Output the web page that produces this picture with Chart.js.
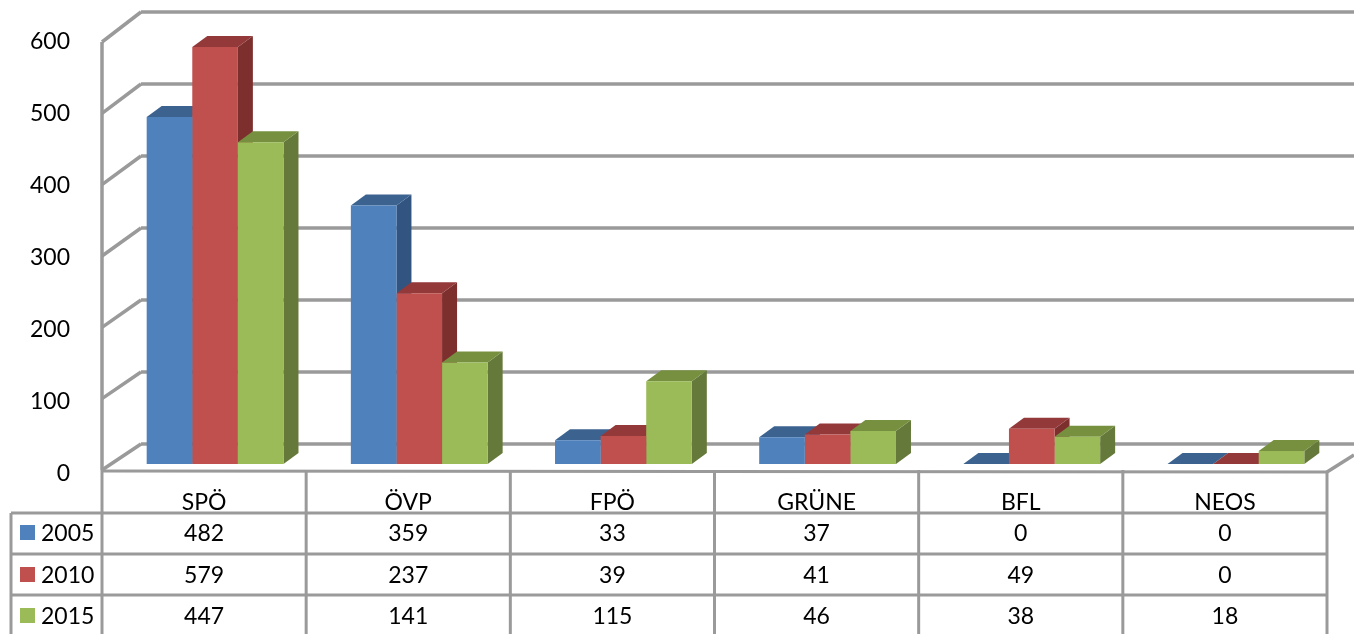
<!DOCTYPE html>
<html>
<head>
<meta charset="utf-8">
<title>Chart</title>
<script src="https://cdn.jsdelivr.net/npm/chart.js@4"></script>
<style>
  body { margin: 0; background: #fff; }
  canvas { display: block; }
</style>
</head>
<body>
<canvas id="chart" width="1354" height="634"></canvas>
<script>
const categories = ['SPÖ', 'ÖVP', 'FPÖ', 'GRÜNE', 'BFL', 'NEOS'];
const seriesNames = ['2005', '2010', '2015'];
const values2005 = [482, 359, 33, 37, 0, 0];
const values2010 = [579, 237, 39, 41, 49, 0];
const values2015 = [447, 141, 115, 46, 38, 18];
const yTicks = [0, 100, 200, 300, 400, 500, 600];

const frontColors = ['#4f81bd', '#c0504d', '#9bbb59'];
const topColors = ['#3c6390', '#93393a', '#769040'];
const sideColors = ['#325480', '#7d2f2d', '#64793a'];
const lineColor = '#9a9a9a';
const font = '23px Lato';

// depth of the bars and of the chart floor/walls
const barDepth = { x: 15, y: 11 };
const wallLeft = 102;
const wallBack = 141;
const rowLines = [513, 554, 595];
const rowCenters = [534, 576, 617];

function poly(ctx, pts, color) {
    ctx.fillStyle = color;
    ctx.beginPath();
    pts.forEach((p, i) => i ? ctx.lineTo(p[0], p[1]) : ctx.moveTo(p[0], p[1]));
    ctx.closePath();
    ctx.fill();
}

function line(ctx, x1, y1, x2, y2) {
    ctx.beginPath();
    ctx.moveTo(x1, y1);
    ctx.lineTo(x2, y2);
    ctx.stroke();
}

// back wall, side wall and the bars' top and side faces
const walls = {
    id: 'walls',
    beforeDatasetsDraw(chart) {
        const ctx = chart.ctx;
        const y = chart.scales.y;
        ctx.save();
        ctx.strokeStyle = lineColor;
        ctx.lineWidth = 3.5;
        yTicks.forEach(t => {
            const p = y.getPixelForValue(t);
            const front = p + 6 + (t / 600) * 4;
            line(ctx, wallLeft, front, wallBack, p - 20);
            line(ctx, wallBack, p - 20, 1354, p - 20);
        });
        const floorY = y.getPixelForValue(0) + 6;
        line(ctx, wallLeft, y.getPixelForValue(600) + 10, wallLeft, floorY);
        line(ctx, 1327, floorY + 2, 1354, floorY - 15);
        ctx.restore();

        categories.forEach((c, i) => {
            chart.data.datasets.forEach((ds, d) => {
                const bar = chart.getDatasetMeta(d).data[i];
                const left = bar.x - bar.width / 2;
                const right = bar.x + bar.width / 2;
                const dx = barDepth.x, dy = barDepth.y;
                poly(ctx, [[right, bar.base], [right + dx, bar.base - dy], [right + dx, bar.y - dy], [right, bar.y]], sideColors[d]);
                poly(ctx, [[left, bar.y], [left + dx, bar.y - dy], [right + dx, bar.y - dy], [right, bar.y]], topColors[d]);
            });
        });
    },
    // data table under the plot
    afterDraw(chart) {
        const ctx = chart.ctx;
        const x = chart.scales.x;
        const floorY = chart.scales.y.getPixelForValue(0) + 6;
        const step = x.width / categories.length;
        const colLeft = i => wallLeft + i * step;
        ctx.save();
        ctx.strokeStyle = lineColor;
        ctx.lineWidth = 3;
        line(ctx, wallLeft, floorY + 1, 1327, floorY + 2);
        categories.forEach((c, i) => line(ctx, colLeft(i), floorY, colLeft(i), 634));
        line(ctx, colLeft(categories.length), floorY + 2, colLeft(categories.length), 634);
        line(ctx, 11, rowLines[0], 11, 634);
        rowLines.forEach(r => line(ctx, 11, r, 1327, r));

        ctx.font = font;
        ctx.textBaseline = 'middle';
        const rows = [values2005, values2010, values2015];
        rows.forEach((vals, r) => {
            ctx.fillStyle = frontColors[r];
            ctx.fillRect(20, rowCenters[r] - 9, 15, 15);
            ctx.fillStyle = '#000';
            ctx.textAlign = 'left';
            ctx.fillText(seriesNames[r], 41, rowCenters[r]);
            ctx.textAlign = 'center';
            vals.forEach((v, i) => ctx.fillText(String(v), colLeft(i) + step / 2, rowCenters[r]));
        });
        ctx.restore();
    }
};

new Chart(document.getElementById('chart'), {
    type: 'bar',
    data: {
        labels: categories,
        datasets: [
            { label: seriesNames[0], data: values2005, backgroundColor: frontColors[0] },
            { label: seriesNames[1], data: values2010, backgroundColor: frontColors[1] },
            { label: seriesNames[2], data: values2015, backgroundColor: frontColors[2] }
        ]
    },
    options: {
        responsive: false,
        animation: false,
        devicePixelRatio: 1,
        layout: { padding: { top: 32, right: 16 } },
        datasets: { bar: { barPercentage: 1, categoryPercentage: 0.67 } },
        plugins: { legend: { display: false }, tooltip: { enabled: false } },
        scales: {
            x: {
                afterFit(scale) { scale.height = 170; },
                grid: { display: false },
                border: { display: false },
                ticks: { color: '#000', font: { family: 'Lato', size: 23 }, padding: 17, labelOffset: -11, maxRotation: 0 }
            },
            y: {
                min: 0,
                max: 600,
                afterFit(scale) {
                    scale.width = 113;
                    // tick padding would otherwise also shrink the plot height
                    scale.paddingTop = 0;
                    scale.paddingBottom = 0;
                },
                grid: { display: false },
                border: { display: false },
                afterBuildTicks(scale) { scale.ticks = yTicks.map(v => ({ value: v })); },
                ticks: { color: '#000', font: { family: 'Lato', size: 23 }, padding: 35, labelOffset: 10 }
            }
        }
    },
    plugins: [walls]
});
</script>
</body>
</html>
